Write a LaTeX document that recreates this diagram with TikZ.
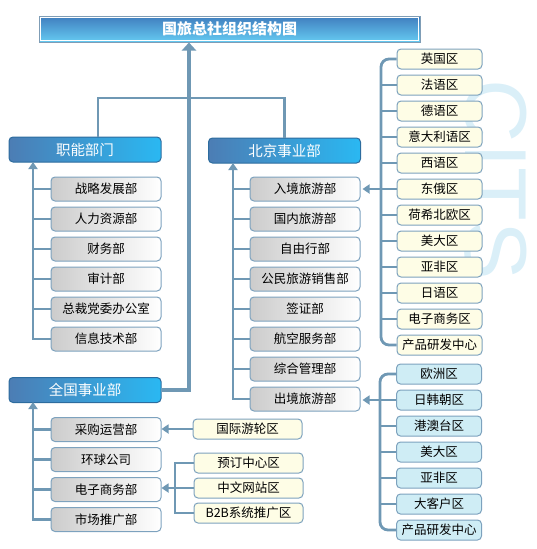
\documentclass[tikz,border=0pt]{standalone}
\usepackage{fontspec}
\newfontfamily\cjk{Noto Sans CJK SC}
\newfontfamily\wmfont{Liberation Sans}
\usetikzlibrary{arrows.meta}
\definecolor{linecol}{HTML}{6F98B4}
\definecolor{boxline}{HTML}{7DA2BE}
\definecolor{headdark}{HTML}{4C7DB4}
\definecolor{headlight}{HTML}{2AB8F2}
\definecolor{headedge}{HTML}{2D6C9E}
\definecolor{bartop}{HTML}{3F7DBE}
\definecolor{barbottom}{HTML}{66CBF2}
\definecolor{baredge}{HTML}{7F9DB6}
\definecolor{areafill}{HTML}{FEFDE6}
\definecolor{regionfill}{HTML}{CFEDF5}
\definecolor{wmcol}{HTML}{DAEFF8}

\begin{document}
\begin{tikzpicture}[
  x=1pt, y=-1pt,
  link/.style={draw=linecol, line width=2.8pt},
  flow/.style={link, -{Triangle[width=9pt,length=7pt]}},
  mainflow/.style={link, line width=3.2pt, -{Triangle[width=14pt,length=8pt]}},
  titlebar/.style={draw=baredge, line width=1pt, top color=bartop, bottom color=barbottom,
    minimum width=381pt, minimum height=26pt, inner sep=0pt, text=white,
    font=\cjk\bfseries\fontsize{15}{15}\selectfont},
  head/.style={draw=headedge, line width=1pt, rounded corners=4pt, left color=headdark,
    right color=headlight, minimum width=152pt, minimum height=25pt, inner sep=0pt,
    text=white, font=\cjk\fontsize{14.5}{15}\selectfont},
  dept/.style={draw=boxline, line width=1pt, rounded corners=4pt, left color=black!20,
    right color=white, minimum width=110pt, minimum height=24pt, inner sep=0pt,
    font=\cjk\fontsize{12.5}{13}\selectfont},
  area/.style={draw=boxline, line width=1pt, rounded corners=4pt, fill=areafill,
    minimum width=85pt, minimum height=20pt, inner sep=0pt,
    font=\cjk\fontsize{12.5}{13}\selectfont},
  region/.style={area, fill=regionfill}
]
  \useasboundingbox (0,0) rectangle (536,549);

  % watermark
  \node[rotate=-90, text=wmcol, inner sep=0pt, font=\wmfont\fontsize{88}{88}\selectfont] (cits) at (496,180) {CITS};

  % top
  \node[titlebar] (title) at (229.5,29) {国旅总社组织结构图};
  \draw[white, line width=1pt] ([xshift=2pt,yshift=-2pt]title.north west) rectangle ([xshift=-2pt,yshift=2pt]title.south east);

  \node[head] (zn) at (85,149.5) {职能部门};
  \node[head] (bj) at (284.5,150.5) {北京事业部};
  \node[head] (qg) at (85,390) {全国事业部};

  % 职能部门
  \node[dept] (zn1) at (106,189) {战略发展部};
  \node[dept] (zn2) at (106,219) {人力资源部};
  \node[dept] (zn3) at (106,249) {财务部};
  \node[dept] (zn4) at (106,279) {审计部};
  \node[dept] (zn5) at (106,309) {总裁党委办公室};
  \node[dept] (zn6) at (106,339) {信息技术部};

  % 北京事业部
  \node[dept] (bj1) at (305,189) {入境旅游部};
  \node[dept] (bj2) at (305,219) {国内旅游部};
  \node[dept] (bj3) at (305,249) {自由行部};
  \node[dept] (bj4) at (305,279) {公民旅游销售部};
  \node[dept] (bj5) at (305,309) {签证部};
  \node[dept] (bj6) at (305,339) {航空服务部};
  \node[dept] (bj7) at (305,369) {综合管理部};
  \node[dept] (bj8) at (305,399) {出境旅游部};

  % 全国事业部
  \node[dept] (qg1) at (106,429.5) {采购运营部};
  \node[dept] (qg2) at (106,459.5) {环球公司};
  \node[dept] (qg3) at (106,489.5) {电子商务部};
  \node[dept] (qg4) at (106,519.5) {市场推广部};

  \node[area, minimum width=109pt] (yl) at (247.5,429) {国际游轮区};
  \node[area, minimum width=109pt] (ec1) at (248.5,463) {预订中心区};
  \node[area, minimum width=109pt] (ec2) at (248.5,488) {中文网站区};
  \node[area, minimum width=109pt] (ec3) at (248.5,513) {B2B系统推广区};

  % 入境
  \node[area] (ry1) at (439.5,59) {英国区};
  \node[area] (ry2) at (439.5,85) {法语区};
  \node[area] (ry3) at (439.5,111) {德语区};
  \node[area] (ry4) at (439.5,137) {意大利语区};
  \node[area] (ry5) at (439.5,163) {西语区};
  \node[area] (ry6) at (439.5,189) {东俄区};
  \node[area] (ry7) at (439.5,215) {荷希北欧区};
  \node[area] (ry8) at (439.5,241) {美大区};
  \node[area] (ry9) at (439.5,267) {亚非区};
  \node[area] (ry10) at (439.5,293) {日语区};
  \node[area] (ry11) at (439.5,319) {电子商务区};
  \node[area] (ry12) at (439.5,345) {产品研发中心};

  % 出境
  \node[region] (cj1) at (439,374) {欧洲区};
  \node[region] (cj2) at (439,400) {日韩朝区};
  \node[region] (cj3) at (439,426) {港澳台区};
  \node[region] (cj4) at (439,452) {美大区};
  \node[region] (cj5) at (439,478) {亚非区};
  \node[region] (cj6) at (439,504) {大客户区};
  \node[region] (cj7) at (439,530) {产品研发中心};

  \coordinate (fork) at (189,98);
  \coordinate (znrail) at (33,162);
  \coordinate (bjrail) at (233,163);
  \coordinate (qgrail) at (33,402);
  \coordinate (ecrail) at (175,488);
  \coordinate (ryrail) at (381,189);
  \coordinate (cjrail) at (380,400);

  % main lines
  \draw[mainflow] (qg.east) -| (title.south -| fork);
  \draw[link] ([xshift=13pt]zn.north) |- (fork) -| (bj.north);

  \draw[flow] (zn6.west) -| (znrail);
  \draw[link] (zn1.west) -- (zn1.west -| znrail);
  \draw[link] (zn2.west) -- (zn2.west -| znrail);
  \draw[link] (zn3.west) -- (zn3.west -| znrail);
  \draw[link] (zn4.west) -- (zn4.west -| znrail);
  \draw[link] (zn5.west) -- (zn5.west -| znrail);

  \draw[flow] (bj8.west) -| (bjrail);
  \draw[link] (bj1.west) -- (bj1.west -| bjrail);
  \draw[link] (bj2.west) -- (bj2.west -| bjrail);
  \draw[link] (bj3.west) -- (bj3.west -| bjrail);
  \draw[link] (bj4.west) -- (bj4.west -| bjrail);
  \draw[link] (bj5.west) -- (bj5.west -| bjrail);
  \draw[link] (bj6.west) -- (bj6.west -| bjrail);
  \draw[link] (bj7.west) -- (bj7.west -| bjrail);

  \draw[flow] (qg4.west) -| (qgrail);
  \draw[link] (qg1.west) -- (qg1.west -| qgrail);
  \draw[link] (qg2.west) -- (qg2.west -| qgrail);
  \draw[link] (qg3.west) -- (qg3.west -| qgrail);

  \draw[flow] (yl.west) -- (qg1.east |- yl.west);
  \draw[link] (ec1.west) -| (ecrail) |- (ec3.west);
  \draw[link] (ec2.west) -- (ecrail);
  \draw[flow] (ecrail) -- (qg3.east |- ecrail);

  % brackets on the right
  \draw[link, rounded corners=8pt] (ry1.west) -| (ryrail) |- (ry12.west);
  \draw[link] (ry2.west) -- (ry2.west -| ryrail);
  \draw[link] (ry3.west) -- (ry3.west -| ryrail);
  \draw[link] (ry4.west) -- (ry4.west -| ryrail);
  \draw[link] (ry5.west) -- (ry5.west -| ryrail);
  \draw[link] (ry6.west) -- (ry6.west -| ryrail);
  \draw[link] (ry7.west) -- (ry7.west -| ryrail);
  \draw[link] (ry8.west) -- (ry8.west -| ryrail);
  \draw[link] (ry9.west) -- (ry9.west -| ryrail);
  \draw[link] (ry10.west) -- (ry10.west -| ryrail);
  \draw[link] (ry11.west) -- (ry11.west -| ryrail);
  \draw[flow] (ryrail) -- ([xshift=2pt]bj1.east);

  \draw[link, rounded corners=8pt] (cj1.west) -| (cjrail) |- (cj7.west);
  \draw[link] (cj3.west) -- (cj3.west -| cjrail);
  \draw[link] (cj4.west) -- (cj4.west -| cjrail);
  \draw[link] (cj5.west) -- (cj5.west -| cjrail);
  \draw[link] (cj6.west) -- (cj6.west -| cjrail);
  \draw[link] (cj2.west) -- (cjrail);
  \draw[flow] (cjrail) -- ([xshift=2pt]bj8.east |- cjrail);
\end{tikzpicture}
\end{document}
